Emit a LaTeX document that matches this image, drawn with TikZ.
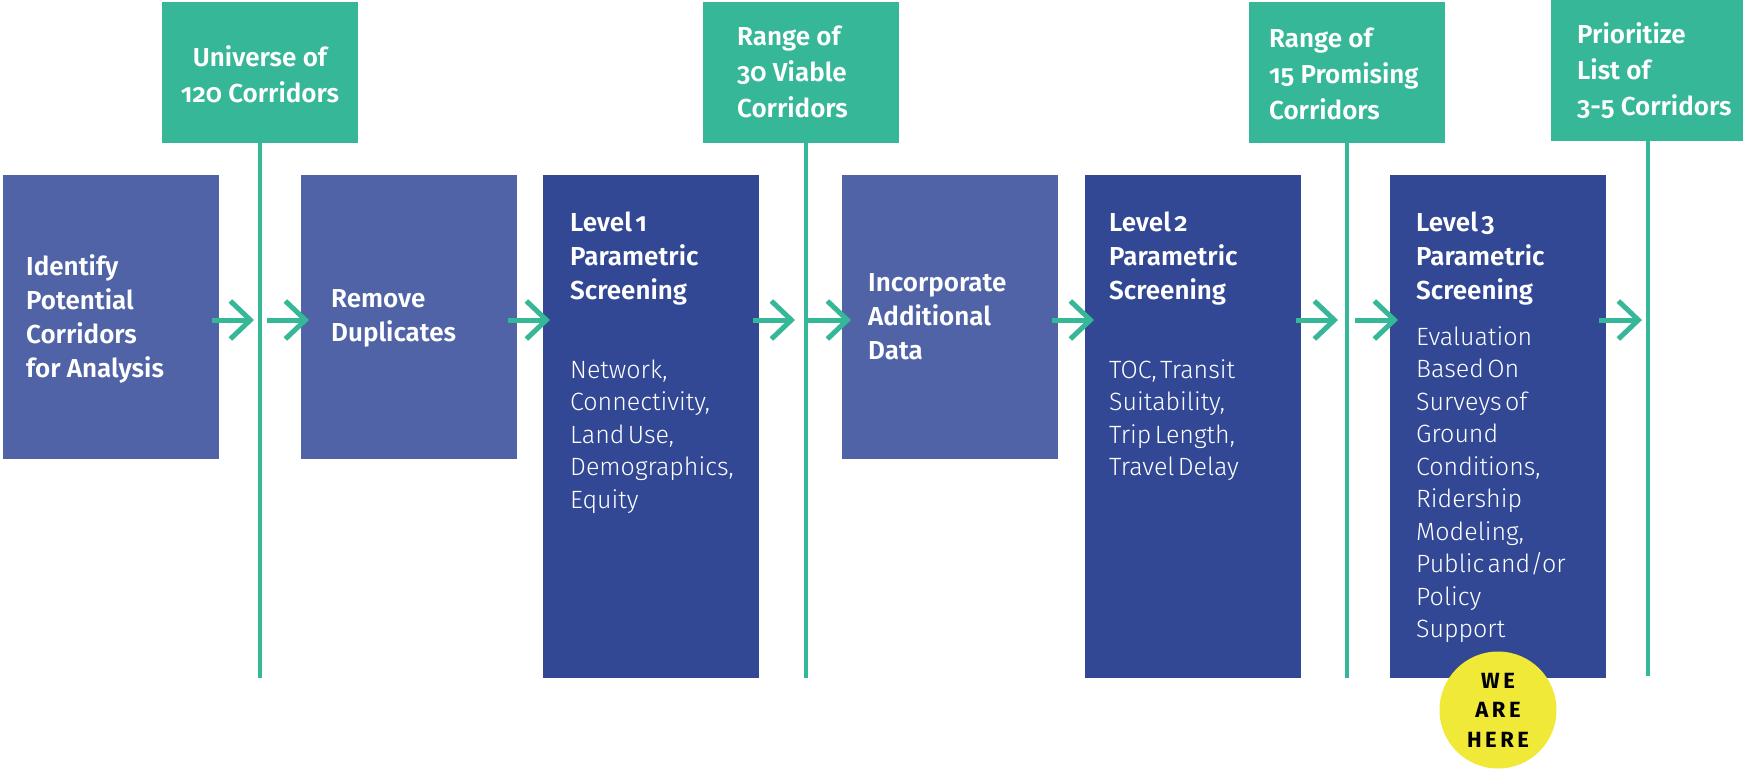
\documentclass[tikz,border=0pt]{standalone}
\usepackage{fontspec}
\setmainfont{Fira Sans}[Numbers=OldStyle]
\newfontfamily\tfont{Fira Sans SemiBold}[Numbers=OldStyle]
\newfontfamily\lfont{Fira Sans Light}[Numbers=OldStyle]
\newfontfamily\hfont{Fira Sans}[LetterSpace=16]
\usetikzlibrary{arrows.meta,calc}
\definecolor{cgreen}{HTML}{36B898}
\definecolor{clight}{HTML}{5063A6}
\definecolor{cdark}{HTML}{324895}
\definecolor{cyel}{HTML}{F1E937}
\setlength{\parskip}{0pt}
\begin{document}
\begin{tikzpicture}[x=1pt,y=-1pt,
  box/.style={anchor=north west, inner sep=0pt, outer sep=0pt, minimum width=216pt},
  lightbox/.style={box, fill=clight, minimum height=284pt},
  darkbox/.style={box, fill=cdark, minimum height=503pt},
  gbox/.style={anchor=north west, inner sep=0pt, outer sep=0pt, fill=cgreen, minimum width=196pt, minimum height=141pt},
  ttl/.style={text=white, inner sep=0pt, align=left, font=\tfont\fontsize{26}{34}\selectfont},
  gtxt/.style={text=white, inner sep=0pt, align=left, font=\tfont\fontsize{26}{36}\selectfont},
  tall/.style={text=white, inner sep=0pt, anchor=north west, text width=200pt, align=left},
  vline/.style={draw=cgreen, line width=4pt},
  arr/.style={draw=cgreen, line width=5pt, -{Straight Barb[length=20pt,width=38pt]}},
  here/.style={circle, fill=cyel, minimum size=117pt, inner sep=0pt, text=black, align=center, font=\hfont\bfseries\fontsize{22}{29.5}\selectfont}
]
\useasboundingbox (0,0) rectangle (1743,769);
\fill[white] (0,0) rectangle (1743,769);

% process boxes
\node[lightbox] (b1) at (3,175) {};
\node[lightbox] (b2) at (301,175) {};
\node[darkbox]  (b3) at (543,175) {};
\node[lightbox] (b4) at (842,175) {};
\node[darkbox]  (b5) at (1085,175) {};
\node[darkbox]  (b6) at (1390,175) {};

% green milestone boxes
\node[gbox] (g1) at (162,2) {};
\node[gbox] (g2) at (703,2) {};
\node[gbox] (g3) at (1249,2) {};
\node[gbox, minimum width=192pt] (g4) at (1551,0) {};

% vertical lines
\coordinate (l1) at (260,678);
\coordinate (l2) at (806,678);
\coordinate (l3) at (1347,678);
\coordinate (l4) at (1648,676);
\draw[vline] (g1.south -| l1) -- (l1);
\draw[vline] (g2.south -| l2) -- (l2);
\draw[vline] (g3.south -| l3) -- (l3);
\draw[vline] (g4.south -| l4) -- (l4);

% arrows
\coordinate (ay) at (0,320);
\draw[arr] ($(b1.east|-ay)+(-7,0)$) -- ($(l1|-ay)+(-6,0)$);
\draw[arr] ($(l1|-ay)+(7,0)$) -- ($(b2.west|-ay)+(8,0)$);
\draw[arr] ($(b2.east|-ay)+(-9,0)$) -- ($(b3.west|-ay)+(7,0)$);
\draw[arr] ($(b3.east|-ay)+(-6,0)$) -- ($(l2|-ay)+(-11,0)$);
\draw[arr] ($(l2|-ay)+(2,0)$) -- ($(b4.west|-ay)+(9,0)$);
\draw[arr] ($(b4.east|-ay)+(-6,0)$) -- ($(b5.west|-ay)+(9,0)$);
\draw[arr] ($(b5.east|-ay)+(-5,0)$) -- ($(l3|-ay)+(-9,0)$);
\draw[arr] ($(l3|-ay)+(8,0)$) -- ($(b6.west|-ay)+(8,0)$);
\draw[arr] ($(b6.east|-ay)+(-7,0)$) -- ($(l4|-ay)+(-6,0)$);

% texts in short boxes
\node[ttl, anchor=west] (t1) at ($(b1.west)+(23,2)$) {Identify\\Potential\\Corridors\\for Analysis};
\node[ttl, anchor=west] (t2) at ($(b2.west)+(30,1)$) {Remove\\Duplicates};
\node[ttl, anchor=west] (t4) at ($(b4.west)+(26,0)$) {Incorporate\\Additional\\Data};

% texts in tall boxes
\node[tall] (t3) at ($(b3.north west)+(27,37)$) {\tfont\fontsize{26}{34}\selectfont Level 1\\Parametric\\Screening\par\vspace{46pt}\lfont\fontsize{25}{32.5}\selectfont Network,\\Connectivity,\\Land Use,\\Demographics,\\Equity\par};
\node[tall] (t5) at ($(b5.north west)+(24,37)$) {\tfont\fontsize{26}{34}\selectfont Level 2\\Parametric\\Screening\par\vspace{46pt}\lfont\fontsize{25}{32.5}\selectfont TOC, Transit\\Suitability,\\Trip Length,\\Travel Delay\par};
\node[tall] (t6) at ($(b6.north west)+(26,37)$) {\tfont\fontsize{26}{34}\selectfont Level 3\\Parametric\\Screening\par\vspace{13pt}\lfont\fontsize{25}{32.5}\selectfont Evaluation\\Based On\\Surveys of\\Ground\\Conditions,\\Ridership\\Modeling,\\Public and/or\\Policy\\Support\par};

% texts in green boxes
\node[gtxt, align=center] (gt1) at ($(g1.center)+(0,2)$) {Universe of\\120 Corridors};
\node[gtxt, anchor=west] (gt2) at ($(g2.west)+(34,-1)$) {Range of\\30 Viable\\Corridors};
\node[gtxt, anchor=west] (gt3) at ($(g3.west)+(20,1)$) {Range of\\15 Promising\\Corridors};
\node[gtxt, anchor=west] (gt4) at ($(g4.west)+(26,0)$) {Prioritize\\List of\\3-5 Corridors};

% we are here
\node[here] (we) at (1498,710) {WE\\ARE\\HERE};
\end{tikzpicture}
\end{document}
